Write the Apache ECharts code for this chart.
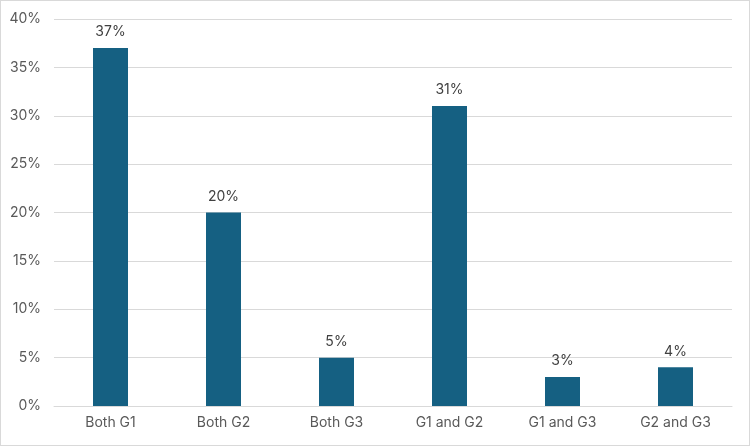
<!DOCTYPE html>
<html>
<head>
<meta charset="utf-8">
<script src="https://cdn.jsdelivr.net/npm/echarts@6/dist/echarts.min.js"></script>
<style>
  html, body { margin: 0; padding: 0; background: #fff; }
  #chart { width: 750px; height: 446px; box-sizing: border-box; border: 1px solid #d9d9d9; }
</style>
</head>
<body>
<div id="chart"></div>
<script>
  var categories = ['Both G1', 'Both G2', 'Both G3', 'G1 and G2', 'G1 and G3', 'G2 and G3'];
  var shares = [37, 20, 5, 31, 3, 4];

  var chart = echarts.init(document.getElementById('chart'));
  chart.setOption({
    animation: false,
    textStyle: { fontFamily: 'Inter, Lato, sans-serif' },
    grid: { left: 53, right: 17, top: 18, bottom: 39 },
    xAxis: {
      type: 'category',
      data: categories,
      axisLine: { lineStyle: { color: '#d9d9d9' } },
      axisTick: { show: false },
      axisLabel: { color: '#595959', fontSize: 14, margin: 10 }
    },
    yAxis: {
      type: 'value',
      min: 0,
      max: 40,
      interval: 5,
      axisLine: { show: false },
      axisTick: { show: false },
      splitLine: { lineStyle: { color: '#d9d9d9' } },
      axisLabel: { color: '#595959', fontSize: 14, margin: 13, formatter: '{value}%' }
    },
    series: [{
      type: 'bar',
      data: shares,
      barWidth: 35,
      itemStyle: { color: '#156082' },
      label: {
        show: true,
        position: 'top',
        distance: 9,
        color: '#404040',
        fontSize: 14,
        formatter: '{c}%'
      }
    }]
  });
</script>
</body>
</html>
